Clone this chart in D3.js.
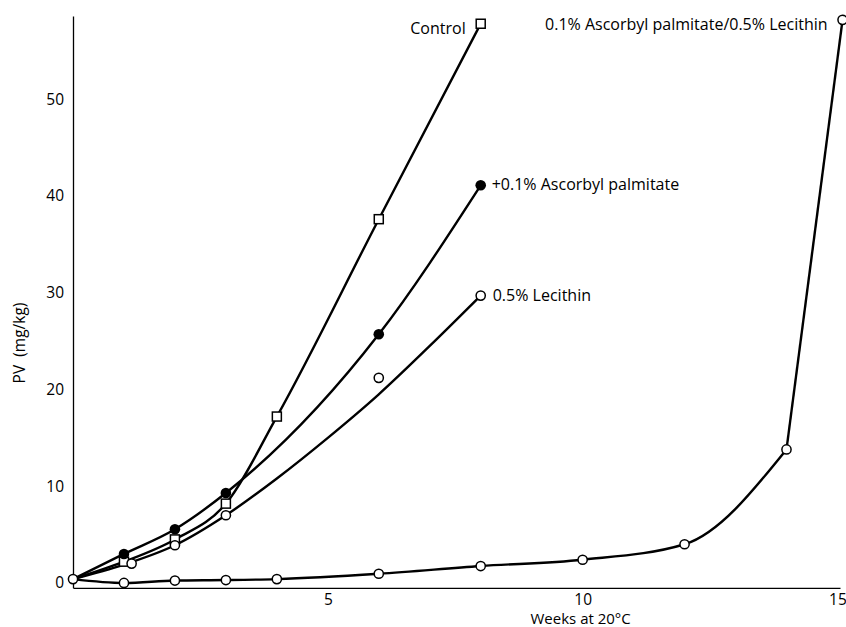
<!DOCTYPE html>
<html>
<head>
<meta charset="utf-8">
<script src="https://cdn.jsdelivr.net/npm/d3@7"></script>
<style>
  body { margin: 0; background: #fff; }
  text { font-family: 'Open Sans', sans-serif; fill: #000; }
</style>
</head>
<body>
<svg id="chart" width="846" height="627"></svg>
<script>
// values (PV in mg/kg against weeks at 20C)
const weeksControl = [0, 1, 2, 3, 4, 6, 8];
const pvControl = [0.4, 2.2, 4.5, 8.2, 17.2, 37.6, 57.8];

const weeksAP = [0, 1, 2, 3, 6, 8];
const pvAP = [0.4, 3.0, 5.55, 9.3, 25.7, 41.1];

const weeksLec = [0, 1.15, 2, 3, 6, 8];
const pvLec = [0.4, 2.0, 3.9, 7.0, 21.2, 29.7];
// the lecithin line is a fitted curve, it misses the week 6 point
const weeksLecFit = [0, 1, 2, 3, 4, 5, 6, 7, 8];
const pvLecFit = [0.4, 1.9, 3.9, 7.0, 10.8, 15.0, 19.5, 24.5, 29.7];

const weeksCombo = [0, 1, 2, 3, 4, 6, 8, 10, 12, 14, 15.1];
const pvCombo = [0.4, 0, 0.25, 0.3, 0.4, 0.95, 1.75, 2.4, 4.0, 13.8, 58.2];

const xTicks = [5, 10, 15];
const yTicks = [0, 10, 20, 30, 40, 50];

const svg = d3.select('#chart');

let x = d3.scaleLinear().domain([0, 15.05]).range([73, 840]);
let y = d3.scaleLinear().domain([-0.5, 58.6]).range([587.8, 16]);

const zip = (ws, vs) => ws.map((w, i) => ({ week: w, pv: vs[i] }));
const control = zip(weeksControl, pvControl);
const ap = zip(weeksAP, pvAP);
const lec = zip(weeksLec, pvLec);
const lecFit = zip(weeksLecFit, pvLecFit);
const combo = zip(weeksCombo, pvCombo);

// axes, no tick marks
let bottomAxis = d3.axisBottom(x).tickValues(xTicks).tickSize(0).tickPadding(6);
let leftAxis = d3.axisLeft(y).tickValues(yTicks).tickSize(0).tickPadding(9);

const xg = svg.append('g')
  .attr('transform', `translate(0,${y(-0.5)})`)
  .call(bottomAxis);
const yg = svg.append('g')
  .attr('transform', `translate(${x(0)},0)`)
  .call(leftAxis);
[xg, yg].forEach(g => {
  g.attr('font-family', null).attr('font-size', null);
  g.select('.domain').attr('stroke', '#000').attr('stroke-width', 1.3);
  g.selectAll('text').style('font-size', '15.5px');
});

svg.append('text')
  .attr('x', x(10) - 2)
  .attr('y', 624)
  .attr('text-anchor', 'middle')
  .style('font-size', '15px')
  .text('Weeks at 20°C');

svg.append('text')
  .attr('transform', 'translate(25,343) rotate(-90)')
  .attr('text-anchor', 'middle')
  .style('font-size', '15.5px')
  .style('white-space', 'pre')
  .text('PV  (mg/kg)');

// lines
const smooth = d3.line().x(d => x(d.week)).y(d => y(d.pv)).curve(d3.curveMonotoneX);
const straight = d3.line().x(d => x(d.week)).y(d => y(d.pv));

const lines = svg.append('g')
  .attr('fill', 'none')
  .attr('stroke', '#000')
  .attr('stroke-width', 2.4)
  .attr('stroke-linejoin', 'round');

lines.append('path').attr('d', smooth(control));
lines.append('path').attr('d', smooth(ap));
lines.append('path').attr('d', smooth(lecFit));
lines.append('path').attr('d', smooth(combo.slice(0, combo.length - 1)));
lines.append('path').attr('d', straight(combo.slice(combo.length - 2)));

// markers (origin point is shared, drawn once with the combo series)
const marks = svg.append('g');
marks.selectAll('rect.control')
  .data(control.filter(d => d.week > 0))
  .join('rect')
  .attr('x', d => x(d.week) - 4.5)
  .attr('y', d => y(d.pv) - 4.5)
  .attr('width', 9)
  .attr('height', 9)
  .attr('fill', '#fff')
  .attr('stroke', '#000')
  .attr('stroke-width', 1.5);

marks.selectAll('circle.ap')
  .data(ap.filter(d => d.week > 0))
  .join('circle')
  .attr('cx', d => x(d.week))
  .attr('cy', d => y(d.pv))
  .attr('r', 5.3)
  .attr('fill', '#000');

marks.selectAll('circle.open')
  .data(lec.filter(d => d.week > 0).concat(combo))
  .join('circle')
  .attr('cx', d => x(d.week))
  .attr('cy', d => y(d.pv))
  .attr('r', 4.6)
  .attr('fill', '#fff')
  .attr('stroke', '#000')
  .attr('stroke-width', 1.5);

// series labels next to the last point
const labels = [
  { text: 'Control', pt: control[control.length - 1], dx: -15, dy: 10, anchor: 'end' },
  { text: '+0.1% Ascorbyl palmitate', pt: ap[ap.length - 1], dx: 11, dy: 5, anchor: 'start' },
  { text: '0.5% Lecithin', pt: lec[lec.length - 1], dx: 12, dy: 5.5, anchor: 'start' },
  { text: '0.1% Ascorbyl palmitate/0.5% Lecithin', pt: combo[combo.length - 1], dx: -15, dy: 10, anchor: 'end' }
];
labels.forEach(l => svg.append('text')
  .attr('x', x(l.pt.week) + l.dx)
  .attr('y', y(l.pt.pv) + l.dy)
  .attr('text-anchor', l.anchor)
  .style('font-size', '16px')
  .text(l.text));
</script>
</body>
</html>
